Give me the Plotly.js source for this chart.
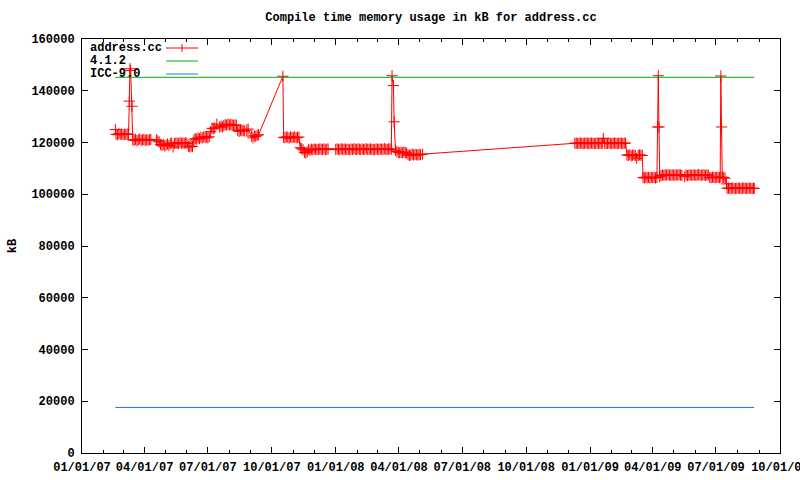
<!DOCTYPE html>
<html>
<head>
<meta charset="utf-8">
<script src="https://cdn.plot.ly/plotly-3.0.1.min.js"></script>
<style>html,body{margin:0;padding:0;background:#fff;}#chart{width:800px;height:480px;}</style>
</head>
<body>
<div id="chart"></div>
<script>
// address.cc compile-time memory usage (kB)
const addrDates = [
'2007-02-18','2007-02-19','2007-02-21','2007-02-23','2007-02-25','2007-02-27','2007-03-01','2007-03-03','2007-03-05','2007-03-07',
'2007-03-09','2007-03-10','2007-03-11','2007-03-12','2007-03-14','2007-03-15','2007-03-17','2007-03-19','2007-03-21','2007-03-23',
'2007-03-25','2007-03-27','2007-03-29','2007-03-31','2007-04-02','2007-04-04','2007-04-06','2007-04-08','2007-04-10','2007-04-18',
'2007-04-20','2007-04-22','2007-04-24','2007-04-26','2007-04-28','2007-04-30','2007-05-02','2007-05-04','2007-05-06','2007-05-08',
'2007-05-10','2007-05-12','2007-05-14','2007-05-16','2007-05-18','2007-05-20','2007-05-22','2007-05-24','2007-05-26','2007-05-28',
'2007-05-30','2007-06-01','2007-06-03','2007-06-05','2007-06-07','2007-06-09','2007-06-11','2007-06-13','2007-06-15','2007-06-17',
'2007-06-19','2007-06-21','2007-06-23','2007-06-25','2007-06-27','2007-06-29','2007-07-01','2007-07-03','2007-07-05','2007-07-07',
'2007-07-09','2007-07-11','2007-07-14','2007-07-18','2007-07-20','2007-07-22','2007-07-24','2007-07-26','2007-07-28','2007-07-30',
'2007-08-01','2007-08-03','2007-08-05','2007-08-07','2007-08-09','2007-08-11','2007-08-13','2007-08-15','2007-08-17','2007-08-19',
'2007-08-21','2007-08-23','2007-08-26','2007-08-28','2007-09-02','2007-09-04','2007-09-06','2007-09-08','2007-09-10','2007-09-12',
'2007-10-17','2007-10-18','2007-10-20','2007-10-22','2007-10-24','2007-10-26','2007-10-28','2007-10-30','2007-11-01','2007-11-03',
'2007-11-05','2007-11-07','2007-11-09','2007-11-11','2007-11-13','2007-11-15','2007-11-17','2007-11-19','2007-11-21','2007-11-23',
'2007-11-25','2007-11-27','2007-11-29','2007-12-01','2007-12-03','2007-12-05','2007-12-07','2007-12-09','2007-12-11','2007-12-13',
'2007-12-15','2007-12-17','2007-12-19','2007-12-21','2008-01-01','2008-01-03','2008-01-05','2008-01-07','2008-01-09','2008-01-11',
'2008-01-13','2008-01-15','2008-01-17','2008-01-19','2008-01-21','2008-01-23','2008-01-25','2008-01-27','2008-01-29','2008-01-31',
'2008-02-02','2008-02-04','2008-02-06','2008-02-08','2008-02-10','2008-02-12','2008-02-14','2008-02-16','2008-02-18','2008-02-20',
'2008-02-22','2008-02-24','2008-02-26','2008-02-28','2008-03-01','2008-03-03','2008-03-05','2008-03-07','2008-03-09','2008-03-11',
'2008-03-13','2008-03-15','2008-03-17','2008-03-19','2008-03-21','2008-03-22','2008-03-24','2008-03-25','2008-03-27','2008-03-29',
'2008-03-31','2008-04-02','2008-04-04','2008-04-06','2008-04-08','2008-04-10','2008-04-12','2008-04-14','2008-04-16','2008-04-18',
'2008-04-20','2008-04-22','2008-04-24','2008-04-26','2008-04-28','2008-04-30','2008-05-02','2008-05-05','2008-12-10','2008-12-12',
'2008-12-14','2008-12-16','2008-12-18','2008-12-20','2008-12-22','2008-12-24','2008-12-26','2008-12-28','2008-12-30','2009-01-01',
'2009-01-03','2009-01-05','2009-01-07','2009-01-09','2009-01-11','2009-01-13','2009-01-15','2009-01-17','2009-01-19','2009-01-20',
'2009-01-22','2009-01-24','2009-01-26','2009-01-28','2009-01-30','2009-02-01','2009-02-03','2009-02-05','2009-02-07','2009-02-09',
'2009-02-11','2009-02-13','2009-02-15','2009-02-17','2009-02-19','2009-02-21','2009-02-23','2009-02-25','2009-02-27','2009-03-01',
'2009-03-03','2009-03-05','2009-03-07','2009-03-09','2009-03-11','2009-03-13','2009-03-15','2009-03-17','2009-03-18','2009-03-20',
'2009-03-22','2009-03-24','2009-03-26','2009-03-28','2009-03-30','2009-04-01','2009-04-03','2009-04-05','2009-04-07','2009-04-08',
'2009-04-09','2009-04-10','2009-04-11','2009-04-13','2009-04-15','2009-04-17','2009-04-19','2009-04-21','2009-04-23','2009-04-25',
'2009-04-27','2009-04-29','2009-05-01','2009-05-03','2009-05-05','2009-05-07','2009-05-09','2009-05-11','2009-05-13','2009-05-17',
'2009-05-19','2009-05-21','2009-05-23','2009-05-25','2009-05-27','2009-05-29','2009-05-31','2009-06-02','2009-06-04','2009-06-06',
'2009-06-08','2009-06-10','2009-06-12','2009-06-14','2009-06-16','2009-06-18','2009-06-20','2009-06-22','2009-06-24','2009-06-26',
'2009-06-28','2009-06-30','2009-07-02','2009-07-04','2009-07-06','2009-07-07','2009-07-08','2009-07-09','2009-07-10','2009-07-12',
'2009-07-14','2009-07-16','2009-07-17','2009-07-19','2009-07-21','2009-07-23','2009-07-25','2009-07-27','2009-07-29','2009-07-31',
'2009-08-02','2009-08-04','2009-08-06','2009-08-08','2009-08-10','2009-08-12','2009-08-14','2009-08-16','2009-08-18','2009-08-20',
'2009-08-22','2009-08-24','2009-08-25'
];
const addrKB = [
125000,123200,123000,123400,123100,123300,123000,123200,123100,123300,
123200,136000,148500,147800,134000,121000,120800,121200,120700,121000,
121300,120900,121000,121200,120800,121100,120900,121000,121200,121000,
120600,120200,119200,118900,119300,118700,119000,119400,118800,119600,
119800,118300,119600,119800,119700,119500,120000,119700,119800,119600,
119900,119700,118500,118300,118600,118400,121000,121500,121300,121800,
121500,122000,121700,122200,121900,122100,121800,122200,124200,125500,
125300,125600,127100,126000,126300,126000,126500,126900,126700,127100,
126800,127000,126800,126600,126800,126700,124700,124300,124800,124500,
124700,124400,124800,125200,122500,121800,122600,122300,122800,123000,
145600,122000,121800,122200,122000,121700,122200,121900,122000,122100,
121800,122000,122100,118000,117600,117200,116200,116000,116400,117300,
117000,117400,117200,117500,117300,117400,117300,117500,117400,117300,
117600,117200,117400,117500,117300,117500,117400,117200,117600,117300,
117400,117500,117300,117400,117200,117500,117300,117600,117400,117300,
117500,117400,117200,117500,117300,117400,117600,117300,117400,117500,
117300,117400,117200,117500,117400,117300,117500,117400,117300,117600,
117400,117300,117500,117400,117500,145800,142000,128000,117000,116500,
116200,116000,116200,116000,116300,116100,115900,115300,115000,115200,
115500,115200,115400,115300,115100,115400,115300,115500,119700,119800,
119600,119700,119800,119700,119600,119700,119800,119700,119600,119700,
119800,119700,119600,119700,119800,119700,119600,119700,119800,121600,
119700,119600,119700,119800,119700,119600,119700,119800,119700,119600,
119700,119800,119700,119600,119700,119800,115200,115000,115300,114800,
115100,115200,114900,113900,115000,115200,115100,115000,106500,106300,
106600,106400,106500,106300,106600,106400,106500,106300,106500,126000,
145800,126000,106800,107200,107400,107300,107500,107400,107600,107400,
107300,107500,107400,107300,107500,107400,107600,107400,107300,106800,
107500,107200,107400,107500,107300,107400,107500,107300,107400,107600,
107400,107300,107500,107400,107300,107500,107400,106500,106400,106600,
106500,106400,106600,106500,106400,106500,145700,126000,106600,106500,
106200,104000,102300,102400,102200,102300,102400,102300,102200,102300,
102400,102300,102200,102300,102400,102300,102200,102300,102400,102300,
102200,102300,102300
];
// reference compilers: constant levels over the same period
const refDates = ['2007-02-18','2009-08-25'];
const gcc412KB = [145200,145200];
const icc90KB = [17600,17600];
const seriesNames = ['address.cc','4.1.2','ICC-9.0'];
const seriesColors = ['#ff0000','#00b000','#1a78e6'];

const FONT = 'Liberation Mono, DejaVu Sans Mono, monospace';
const tf = {family:FONT, size:12, color:'#000', weight:'bold'};

const traces = [
  {x: addrDates, y: addrKB, name: seriesNames[0], type:'scatter', mode:'lines+markers',
   line:{color:seriesColors[0], width:1},
   marker:{symbol:'cross-thin-open', size:8, color:seriesColors[0], line:{color:seriesColors[0], width:1}},
   showlegend:false},
  {x: refDates, y: gcc412KB, name: seriesNames[1], type:'scatter', mode:'lines',
   line:{color:seriesColors[1], width:1}, showlegend:false},
  {x: refDates, y: icc90KB, name: seriesNames[2], type:'scatter', mode:'lines',
   line:{color:seriesColors[2], width:1}, showlegend:false}
];

// gnuplot-style key: text on the left, sample line on the right
const L = 82, R = 780, T = 39, B = 453;
const px = v => (v - L) / (R - L);
const py = v => (B - v) / (B - T);
const rows = [48, 61, 74];
const annotations = [];
const shapes = [];
seriesNames.forEach((n, i) => {
  annotations.push({xref:'paper', yref:'paper', x:px(88), y:py(rows[i]), xanchor:'left', yanchor:'middle',
    text:n, showarrow:false, font:tf});
  shapes.push({type:'line', xref:'paper', yref:'paper', x0:px(166), x1:px(198), y0:py(rows[i]), y1:py(rows[i]),
    line:{color:seriesColors[i], width:1}});
});
shapes.push({type:'line', xref:'paper', yref:'paper', x0:px(182), x1:px(182), y0:py(rows[0]-4), y1:py(rows[0]+4),
  line:{color:seriesColors[0], width:1}});

const layout = {
  width:800, height:480,
  margin:{l:L, r:800-R, t:T, b:480-B, pad:0},
  paper_bgcolor:'#fff', plot_bgcolor:'#fff',
  font:tf,
  title:{text:'Compile time memory usage in kB for address.cc', xref:'paper', x:0.5, xanchor:'center',
    yref:'container', y:1, yanchor:'top', pad:{t:13}, font:tf},
  xaxis:{type:'date', range:['2007-01-01','2009-10-01 02:00'], tick0:'2007-01-01', dtick:'M3', tickformat:'%m/%d/%y',
    showgrid:false, zeroline:false, showline:true, linecolor:'#000', linewidth:1, mirror:'ticks',
    ticks:'inside', ticklen:6, tickcolor:'#000', tickwidth:1, ticklabelstandoff:3, ticklabeloverflow:'allow',
    minor:{ticks:'inside', dtick:'M1', tick0:'2007-01-01', ticklen:3, tickcolor:'#000', tickwidth:1, showgrid:false},
    tickfont:tf, automargin:false},
  yaxis:{range:[0,160000], dtick:20000, tickformat:'d', showgrid:false, zeroline:false, showline:true,
    linecolor:'#000', linewidth:1, mirror:'ticks', ticks:'inside', ticklen:6, tickcolor:'#000', tickwidth:1,
    ticklabelstandoff:4, tickfont:tf, automargin:false,
    title:{text:'kB', standoff:12, font:tf}},
  annotations: annotations,
  shapes: shapes
};

Plotly.newPlot('chart', traces, layout, {displayModeBar:false, staticPlot:true});
</script>
</body>
</html>
